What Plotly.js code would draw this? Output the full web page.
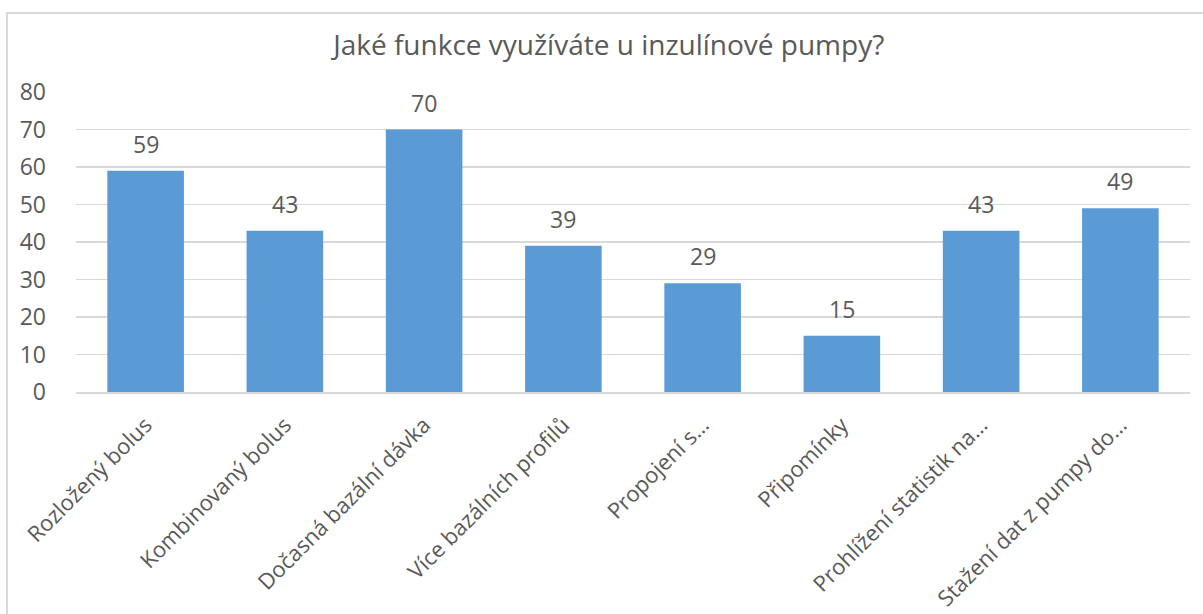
<!DOCTYPE html>
<html>
<head>
<meta charset="utf-8">
<script src="https://cdn.plot.ly/plotly-3.0.1.min.js"></script>
<style>
  html, body { margin: 0; padding: 0; background: #ffffff; }
  #wrap { position: relative; width: 1203px; height: 614px; overflow: hidden; }
  #chart { position: absolute; left: 0; top: 0; width: 1203px; height: 614px; }
  #frame { position: absolute; left: 6px; top: 12px; width: 1210px; height: 620px;
           border-left: 2px solid #d9d9d9; border-top: 2px solid #d9d9d9; pointer-events: none; }
</style>
</head>
<body>
<div id="wrap">
  <div id="chart"></div>
  <div id="frame"></div>
</div>
<script>
// Survey: features used on an insulin pump
const categories = [
  'Rozložený bolus',
  'Kombinovaný bolus',
  'Dočasná bazální dávka',
  'Více bazálních profilů',
  'Propojení s…',
  'Připomínky',
  'Prohlížení statistik na…',
  'Stažení dat z pumpy do…'
];
const counts = [59, 43, 70, 39, 29, 15, 43, 49];
const yTicks = [0, 10, 20, 30, 40, 50, 60, 70, 80];

const textColor = '#595959';
const barColor = '#5b9bd5';
const fontFamily = 'Open Sans, sans-serif';

const trace = {
  type: 'bar',
  x: categories,
  y: counts,
  marker: { color: barColor },
  hoverinfo: 'x+y'
};

// value labels above each bar
const valueLabels = categories.map((c, i) => ({
  x: c,
  y: counts[i],
  xref: 'x',
  yref: 'y',
  text: String(counts[i]),
  showarrow: false,
  yanchor: 'bottom',
  yshift: 9,
  font: { family: fontFamily, size: 23, color: textColor }
}));

const layout = {
  width: 1203,
  height: 614,
  margin: { l: 76, r: 13, t: 92, b: 222 },
  paper_bgcolor: 'rgba(0,0,0,0)',
  plot_bgcolor: 'rgba(0,0,0,0)',
  bargap: 0.45,
  showlegend: false,
  title: {
    text: 'Jaké funkce využíváte u inzulínové pumpy?',
    font: { family: fontFamily, size: 28, color: textColor },
    x: 0.506,
    xanchor: 'center',
    xref: 'container',
    y: 1 - 45 / 614,
    yref: 'container',
    yanchor: 'middle'
  },
  xaxis: {
    type: 'category',
    tickangle: -45,
    tickfont: { family: fontFamily, size: 22, color: textColor },
    showgrid: false,
    showline: true,
    linecolor: '#d9d9d9',
    linewidth: 1.5,
    ticks: '',
    ticklabelstandoff: 10,
    automargin: false
  },
  yaxis: {
    range: [0, 80],
    tickvals: yTicks,
    ticktext: yTicks.map(String),
    tickfont: { family: fontFamily, size: 23, color: textColor },
    showgrid: true,
    gridcolor: '#d9d9d9',
    gridwidth: 1.5,
    zeroline: false,
    showline: false,
    ticks: '',
    ticklabelstandoff: 29,
    automargin: false
  },
  annotations: valueLabels
};

Plotly.newPlot('chart', [trace], layout, { displayModeBar: false, staticPlot: true });
</script>
</body>
</html>
